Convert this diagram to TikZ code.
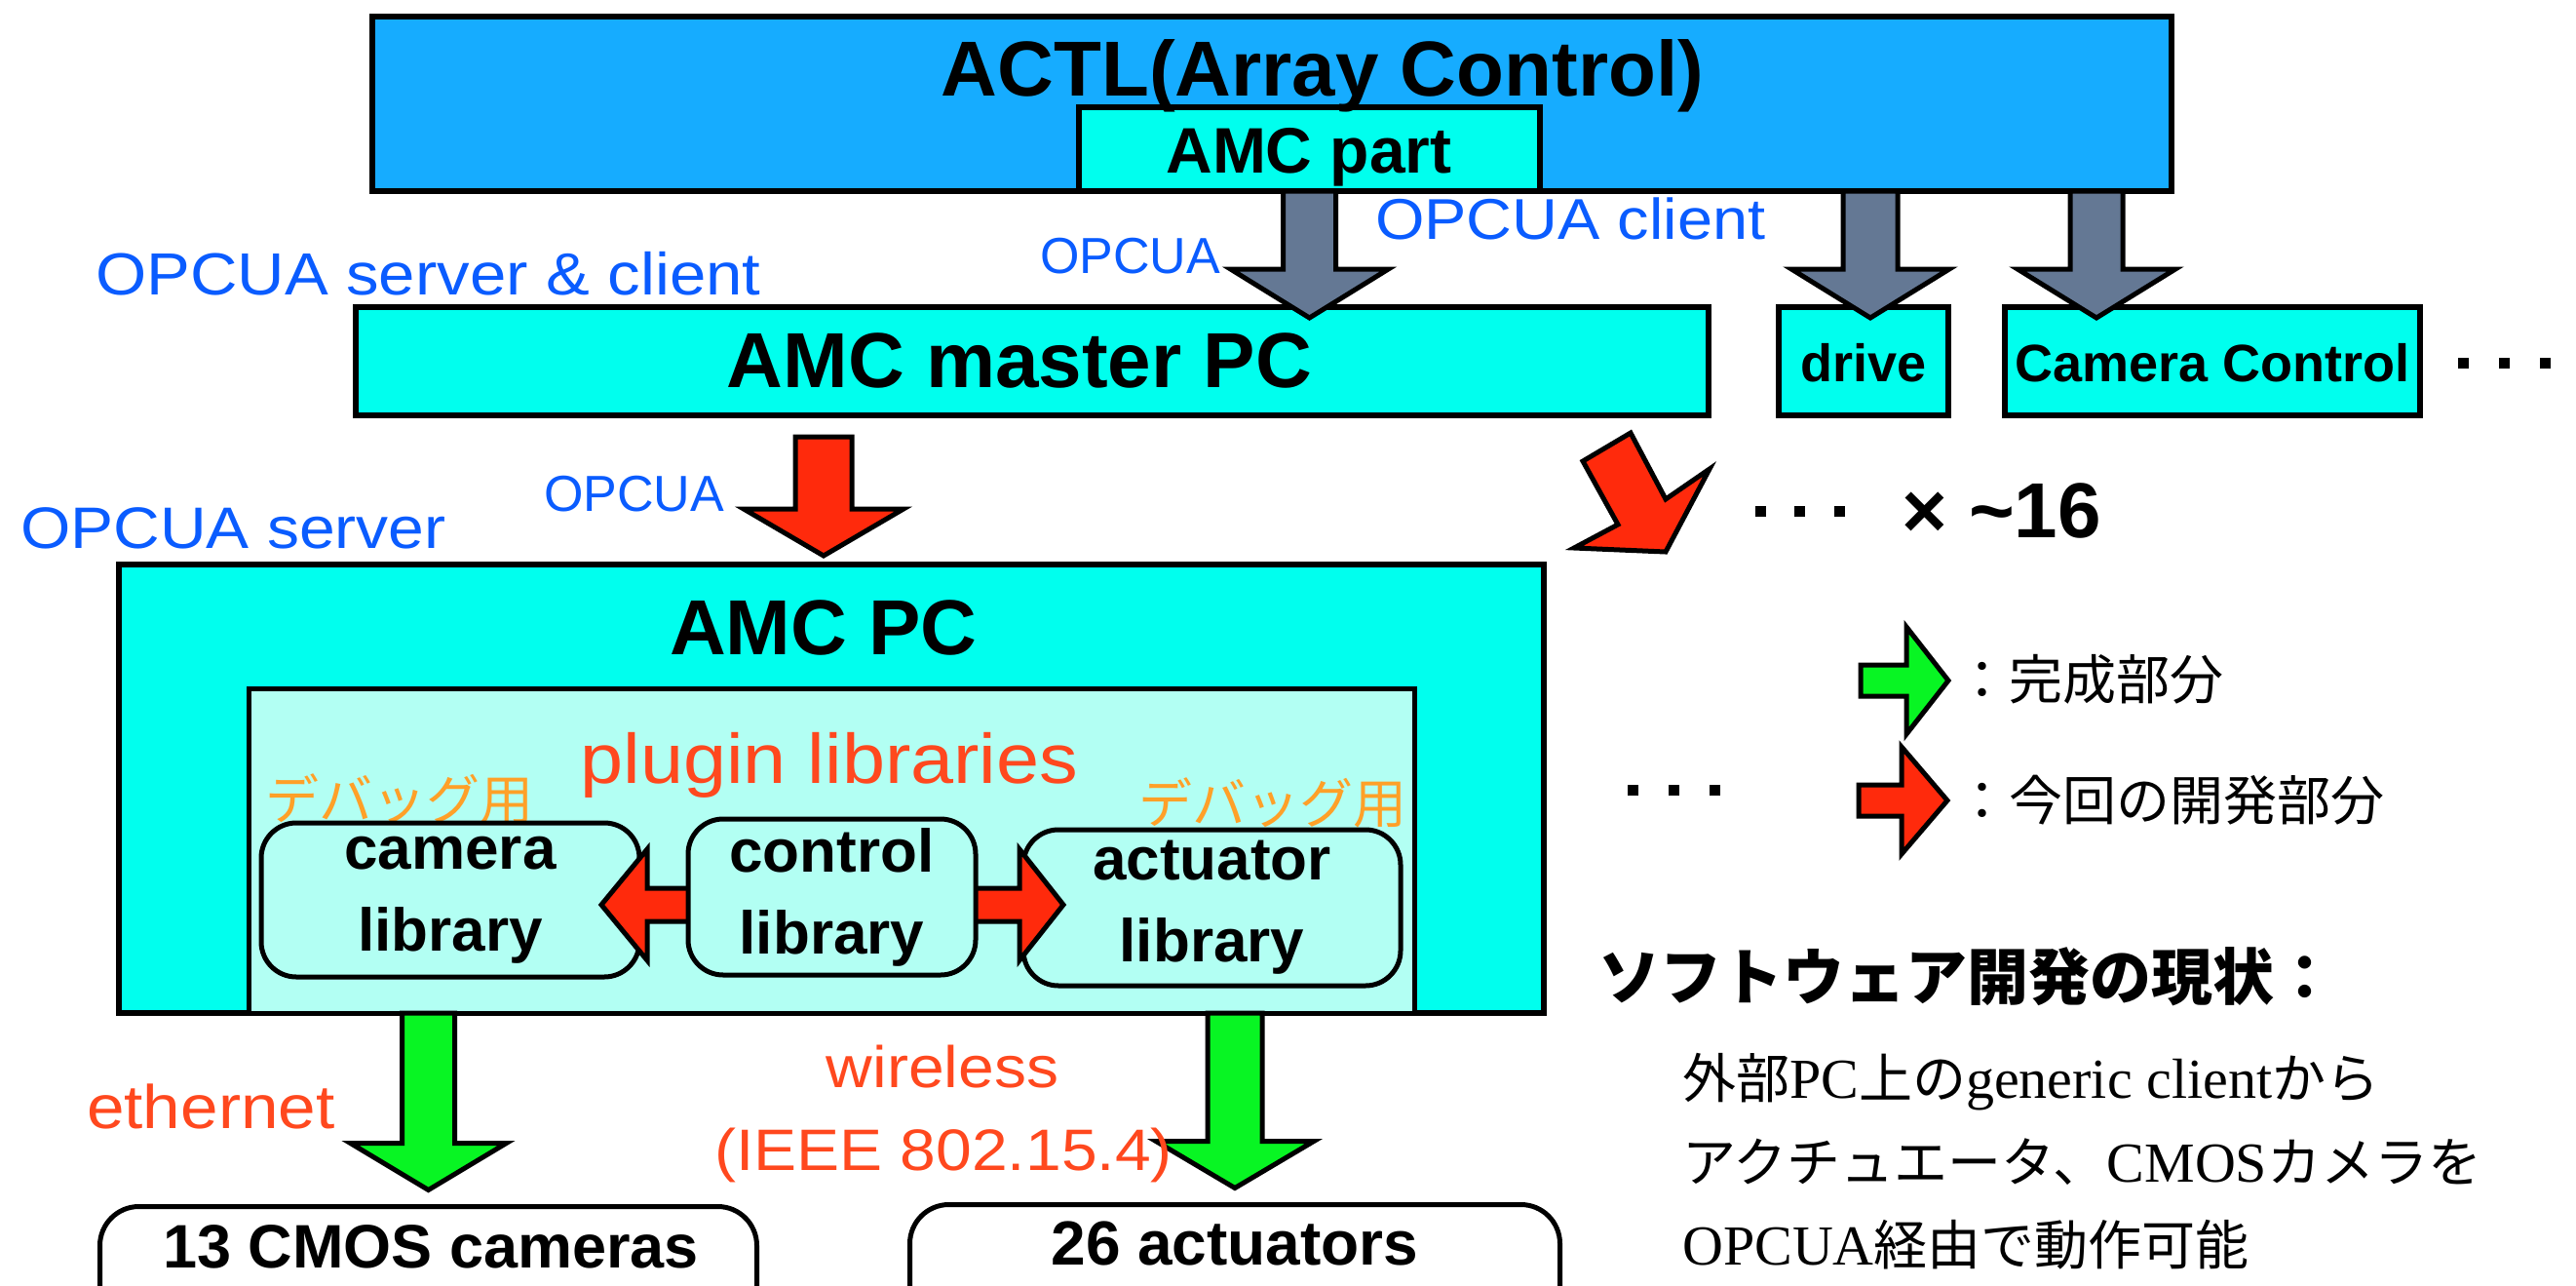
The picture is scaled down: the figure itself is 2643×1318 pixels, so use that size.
\documentclass[tikz,border=0pt]{standalone}
\usepackage{fontspec}
\usetikzlibrary{calc}
\setmainfont{Liberation Sans}
\newfontfamily\hv{Liberation Sans}
\newfontfamily\hvw[FakeStretch=1.1]{Liberation Sans}
\newfontfamily\srf{Liberation Serif}
\newfontfamily\jpf{Noto Sans CJK JP}
\newcommand\fsz[1]{\fontsize{#1}{#1}\selectfont}
\newcommand\J[1]{{\jpf\fsz{55}#1}}

\definecolor{actlblue}{RGB}{22,172,255}
\definecolor{boxcyan}{RGB}{0,255,238}
\definecolor{libcyan}{RGB}{178,255,243}
\definecolor{slate}{RGB}{100,120,148}
\definecolor{arrred}{RGB}{255,42,12}
\definecolor{arrgreen}{RGB}{8,245,35}
\definecolor{opcblue}{RGB}{10,92,255}
\definecolor{linkred}{RGB}{255,72,30}
\definecolor{debugorange}{RGB}{255,160,40}

% downward block arrow: #1 top centre, #2 tip, #3 shaft half-width,
% #4 head half-width, #5 head length, #6 style
\newcommand\blockdown[6]{%
  \draw[#6] let \p1=#1, \p2=#2 in
    ({\x1-#3pt},\y1) -- ({\x1-#3pt},{\y2+#5pt}) -- ({\x1-#4pt},{\y2+#5pt})
    -- (\x1,\y2) -- ({\x1+#4pt},{\y2+#5pt}) -- ({\x1+#3pt},{\y2+#5pt})
    -- ({\x1+#3pt},\y1) -- cycle;}
% horizontal block arrow: #5 is the head length (negative when pointing left)
\newcommand\blockh[6]{%
  \draw[#6] let \p1=#1, \p2=#2 in
    (\x1,{\y1+#3pt}) -- ({\x2-(#5pt)},{\y1+#3pt}) -- ({\x2-(#5pt)},{\y1+#4pt})
    -- (\x2,\y1) -- ({\x2-(#5pt)},{\y1-#4pt}) -- ({\x2-(#5pt)},{\y1-#3pt})
    -- (\x1,{\y1-#3pt}) -- cycle;}

\begin{document}
\begin{tikzpicture}[x=1pt,y=-1pt,
  panel/.style={rectangle,draw=black,line width=6pt,inner sep=0pt,outer sep=0pt},
  libbox/.style={rectangle,draw=black,line width=5pt,rounded corners=36pt,fill=libcyan,
    inner sep=0pt,outer sep=0pt,align=center,font={\bfseries\fontsize{62}{84}\selectfont}},
  endbox/.style={rectangle,draw=black,line width=5pt,rounded corners=40pt,fill=white,
    inner sep=0pt,outer sep=0pt},
  boldlbl/.style={inner sep=0pt,anchor=base,font={\bfseries\fsz{#1}}},
  bluelbl/.style={inner sep=0pt,anchor=base west,text=opcblue,font={\hvw\fsz{#1}}},
  redlbl/.style={inner sep=0pt,anchor=base,text=linkred,font={\hvw\fsz{#1}}},
  dbglbl/.style={inner sep=0pt,anchor=base,text=debugorange,font={\jpf\fsz{55}}},
  greyarrow/.style={draw=black,line width=5pt,fill=slate},
  redarrow/.style={draw=black,line width=5pt,fill=arrred},
  greenarrow/.style={draw=black,line width=5pt,fill=arrgreen},
  bodyline/.style={inner sep=0pt,anchor=base west,font={\srf\fsz{58}}}]

\useasboundingbox (0,0) rectangle (2643,1318);
\fill[white] (0,0) rectangle (2643,1318);

% ---------- array control layer ----------
\node[panel,fill=actlblue,minimum width=1846pt,minimum height=179pt] (actl) at (1305,106.5) {};
\node[panel,fill=boxcyan,minimum width=473pt,minimum height=86pt] (amcpart) at (1343.5,153) {};
\node[boldlbl=80] (actltxt) at (1357,98) {ACTL(Array Control)};
\node[boldlbl=66] (amcparttxt) at (1343,177) {AMC part};

% ---------- second row ----------
\node[panel,fill=boxcyan,minimum width=1388pt,minimum height=111pt] (master) at (1059,370.5) {};
\node[panel,fill=boxcyan,minimum width=174pt,minimum height=111pt] (drive) at (1912,370.5) {};
\node[panel,fill=boxcyan,minimum width=426pt,minimum height=111pt] (camctl) at (2270,370.5) {};
\node[boldlbl=80] (mastertxt) at (1046,397) {AMC master PC};
\node[boldlbl=54] (drivetxt) at (1912,391) {drive};
\node[boldlbl=54] (camctltxt) at (2270,391) {Camera Control};
\foreach \cx in {2527,2569,2611} \fill (\cx-5.5,366.5) rectangle ++(11,11);

\node[bluelbl=61] (srvcli) at (98,302) {OPCUA server \& client};
\node[bluelbl=59] (cli) at (1411,245) {OPCUA client};
\node[inner sep=0pt,anchor=base west,text=opcblue,font={\hv\fsz{52}}] (opc1) at (1067,280) {OPCUA};

% OPCUA links from the array control layer
\coordinate (g1top) at (amcpart.south);
\coordinate (g1tip) at ($(amcpart.south |- master.north)+(0,11)$);
\coordinate (g2top) at ($(actl.south -| drive.north)+(7,0)$);
\coordinate (g2tip) at ($(drive.north)+(7,11)$);
\coordinate (g3top) at ($(actl.south -| camctl.north)+(-119,0)$);
\coordinate (g3tip) at ($(camctl.north)+(-119,11)$);
\blockdown{(g1top)}{(g1tip)}{27}{81}{50}{greyarrow}
\blockdown{(g2top)}{(g2tip)}{28}{81}{50}{greyarrow}
\blockdown{(g3top)}{(g3tip)}{27}{81}{50}{greyarrow}

% ---------- AMC PC ----------
\node[panel,fill=boxcyan,minimum width=1462pt,minimum height=460pt] (amcpc) at (853,809) {};
\node[rectangle,draw=black,line width=5pt,fill=libcyan,inner sep=0pt,outer sep=0pt,
      minimum width=1196pt,minimum height=333pt] (plugins) at (853,872.5) {};
\node[boldlbl=80] (amcpctxt) at (845,671) {AMC PC};
\node[redlbl=72] (plugtxt) at (851,803) {plugin libraries};
\node[dbglbl] (dbgL) at (410,840) {デバッグ用};
\node[dbglbl] (dbgR) at (1306,844) {デバッグ用};

\node[libbox,minimum width=388pt,minimum height=158pt] (cam) at (462,923) {camera\\library};
\node[libbox,minimum width=387pt,minimum height=160pt] (act) at (1243.5,931) {actuator\\library};
\coordinate (dtipL) at ($(cam.east)+(-39,5)$);
\coordinate (dtipR) at ($(act.west)+(41,-3)$);
\draw[redarrow] let \p1=(dtipL), \p2=(dtipR) in
  (\x1,\y1) -- ({\x1+47pt},{\y1+57pt}) -- ({\x1+47pt},{\y1+17pt})
  -- ({\x2-45pt},{\y1+17pt}) -- ({\x2-45pt},{\y1+57pt}) -- (\x2,\y1)
  -- ({\x2-45pt},{\y1-57pt}) -- ({\x2-45pt},{\y1-17pt})
  -- ({\x1+47pt},{\y1-17pt}) -- ({\x1+47pt},{\y1-57pt}) -- cycle;
\node[libbox,minimum width=295pt,minimum height=160pt] (ctl) at (853.5,920) {control\\library};

% master PC to AMC PC
\coordinate (r1top) at ($(amcpc.north)+(-8,-131)$);
\coordinate (r1tip) at ($(amcpc.north)+(-8,-9)$);
\blockdown{(r1top)}{(r1tip)}{29}{82}{48}{redarrow}
\node[inner sep=0pt,anchor=base west,text=opcblue,font={\hv\fsz{52}}] (opc2) at (558,524) {OPCUA};
\node[bluelbl=60] (srv) at (21,562) {OPCUA server};

% further AMC PCs
\draw[redarrow] (1624,473) -- (1673,444) -- (1709,512) -- (1754,481)
  -- (1709,566) -- (1615,562) -- (1660,538) -- cycle;
\foreach \cx in {1806,1846,1887} \fill (\cx-5.5,518.5) rectangle ++(11,11);
\node[boldlbl=80,anchor=base west] (mult) at (1951,551) {× \textasciitilde16};

% ---------- devices ----------
\begin{scope}
\clip (0,0) rectangle (2643,1318);
\node[endbox,minimum width=674pt,minimum height=162pt] (cams) at (439.5,1318.5) {};
\node[endbox,minimum width=667pt,minimum height=164pt] (acts) at (1267,1317.5) {};
\end{scope}
\node[boldlbl=63] (camstxt) at (442,1300) {13 CMOS cameras};
\node[boldlbl=64] (actstxt) at (1267,1297) {26 actuators};

\coordinate (gLtop) at (amcpc.south -| cams.north);
\coordinate (gLtip) at ($(cams.north)+(0,-17)$);
\coordinate (gRtop) at (amcpc.south -| acts.north);
\coordinate (gRtip) at ($(acts.north)+(0,-17)$);
\blockdown{(gLtop)}{(gLtip)}{27}{80}{48}{greenarrow}
\blockdown{(gRtop)}{(gRtip)}{28}{81}{48}{greenarrow}

\node[redlbl=63,anchor=base west] (eth) at (89,1157) {ethernet};
\node[redlbl=60] (wl) at (967,1115) {wireless};
\node[redlbl=60] (ieee) at (968,1200) {(IEEE 802.15.4)};

% ---------- legend ----------
\blockh{(1909,698)}{(1999,698)}{16}{55}{43}{greenarrow}
\blockh{(1907,821)}{(1998,821)}{16}{55}{47}{redarrow}
\node[inner sep=0pt,anchor=base west,font={\jpf\fsz{55}}] (legdone) at (2006,717) {：完成部分};
\node[inner sep=0pt,anchor=base west,font={\jpf\fsz{55}}] (legnew) at (2006,841) {：今回の開発部分};
\foreach \cx in {1675,1717,1759} \fill (\cx-5.5,804.5) rectangle ++(11,11);

% ---------- status notes ----------
\node[inner sep=0pt,anchor=base west,font={\jpf\bfseries\fsz{63}}] (status) at (1640,1025) {ソフトウェア開発の現状：};
\node[bodyline] (note1) at (1726,1126) {\J{外部}PC\J{上の}generic client\J{から}};
\node[bodyline] (note2) at (1726,1212) {\J{アクチュエータ、}CMOS\J{カメラを}};
\node[bodyline] (note3) at (1726,1297) {OPCUA\J{経由で動作可能}};

\end{tikzpicture}
\end{document}
